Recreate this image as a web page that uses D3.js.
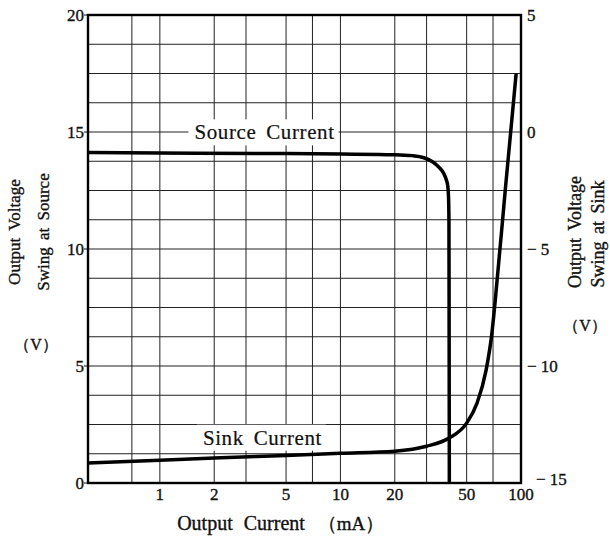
<!DOCTYPE html>
<html>
<head>
<meta charset="utf-8">
<script src="https://cdn.jsdelivr.net/npm/d3@7"></script>
<style>
  body { margin: 0; background: #fff; }
  text { font-family: "Liberation Serif", "DejaVu Serif", serif; fill: #111; stroke: #111; stroke-width: 0.35px; }
</style>
</head>
<body>
<div id="chart"></div>
<script>
// output current (mA) vs output voltage swing

const xTicks = [1, 2, 5, 10, 20, 50, 100]
const xGrid = [0.7, 1, 2, 3, 5, 7, 10, 20, 30, 50, 70]
const leftTicks = [0, 5, 10, 15, 20]
const rightTicks = [-15, -10, -5, 0, 5]

// source current curve, read on the left axis (V)
const sourceMa = [0.4, 1, 5, 10, 20, 25, 29, 32.5, 35.3, 37.2, 38.5, 39.3, 39.7, 39.9, 40, 40.1]
const sourceV = [14.12, 14.1, 14.08, 14.06, 14.03, 13.99, 13.9, 13.72, 13.48, 13.25, 12.98, 12.7, 12.2, 11.2, 6, 0]

// sink current curve, read on the right axis (V)
const sinkMa = [0.4, 1, 2, 5, 10, 20, 30, 40, 50, 57, 64, 69, 72, 82, 94]
const sinkV = [-14.15, -14.03, -13.93, -13.82, -13.73, -13.64, -13.43, -13.08, -12.44, -11.6, -10.2, -8.6, -7.2, -2.4, 2.5]

const width = 610, height = 539
const plotL = 88, plotR = 521, plotT = 15, plotB = 483

const svg = d3.select("#chart").append("svg")
  .attr("width", width)
  .attr("height", height)

const x = d3.scaleLog().domain([0.4, 100]).range([plotL, plotR])
const yL = d3.scaleLinear().domain([0, 20]).range([plotB, plotT])
const yR = d3.scaleLinear().domain([-15, 5]).range([plotB, plotT])

// grid
const yGrid = d3.range(1.25, 20, 1.25)
svg.append("g").selectAll("line")
  .data(yGrid)
  .join("line")
  .attr("x1", plotL).attr("x2", plotR)
  .attr("y1", d => yL(d)).attr("y2", d => yL(d))
  .attr("stroke", "#222").attr("stroke-width", 1)

svg.append("g").selectAll("line")
  .data(xGrid)
  .join("line")
  .attr("x1", d => x(d)).attr("x2", d => x(d))
  .attr("y1", plotT).attr("y2", plotB)
  .attr("stroke", "#222").attr("stroke-width", 1)

// small ticks left of the frame
svg.append("g").selectAll("line")
  .data(leftTicks)
  .join("line")
  .attr("x1", plotL - 4).attr("x2", plotL)
  .attr("y1", d => yL(d)).attr("y2", d => yL(d))
  .attr("stroke", "#111").attr("stroke-width", 1)

// curve labels with white boxes over the grid
function label(txt, cx, cy) {
  const g = svg.append("g")
  const t = g.append("text")
    .attr("x", cx).attr("y", cy)
    .attr("text-anchor", "middle")
    .attr("dy", "0.35em")
    .style("font-size", "21px")
    .style("letter-spacing", "0.6px")
    .style("word-spacing", "4px")
    .style("stroke-width", "0.2px")
    .text(txt)
  const b = t.node().getBBox()
  g.insert("rect", "text")
    .attr("x", b.x - 6).attr("y", b.y - 1)
    .attr("width", b.width + 10).attr("height", b.height + 2)
    .attr("fill", "#fff")
}
label("Source Current", x(3.8), yL(15))
label("Sink Current", x(3.7), yL(1.95))

// curves
const line = d3.line().curve(d3.curveMonotoneX)

svg.append("path")
  .attr("d", line(sourceMa.map((m, i) => [x(m), yL(sourceV[i])])))
  .attr("fill", "none")
  .attr("stroke", "#000")
  .attr("stroke-width", 3.5)

svg.append("path")
  .attr("d", line(sinkMa.map((m, i) => [x(m), yR(sinkV[i])])))
  .attr("fill", "none")
  .attr("stroke", "#000")
  .attr("stroke-width", 3.5)

// frame
svg.append("rect")
  .attr("x", plotL).attr("y", plotT)
  .attr("width", plotR - plotL).attr("height", plotB - plotT)
  .attr("fill", "none")
  .attr("stroke", "#000")
  .attr("stroke-width", 2.4)

// tick labels
svg.append("g").selectAll("text")
  .data(leftTicks)
  .join("text")
  .attr("x", plotL - 4)
  .attr("y", d => yL(d))
  .attr("dy", "0.35em")
  .attr("text-anchor", "end")
  .style("font-size", "17px")
  .text(d => d)

svg.append("g").selectAll("text")
  .data(rightTicks)
  .join("text")
  .attr("x", d => d === -15 ? plotR + 15 : plotR + 6)
  .attr("y", d => yR(d))
  .attr("dy", d => d === -15 ? "0.1em" : "0.35em")
  .attr("text-anchor", "start")
  .style("font-size", "17px")
  .text(d => d < 0 ? "\u2212 " + Math.abs(d) : d)

svg.append("g").selectAll("text")
  .data(xTicks)
  .join("text")
  .attr("x", d => x(d))
  .attr("y", plotB + 11)
  .attr("dy", "0.35em")
  .attr("text-anchor", "middle")
  .style("font-size", "17px")
  .text(d => d)

// axis titles
svg.append("text")
  .attr("x", 241).attr("y", 523).attr("dy", "0.35em")
  .attr("text-anchor", "middle")
  .style("font-size", "20px")
  .style("word-spacing", "6px")
  .text("Output Current")

svg.append("text")
  .attr("x", 351).attr("y", 523).attr("dy", "0.35em")
  .attr("text-anchor", "middle")
  .style("font-size", "19px")
  .text("（mA）")

const vTitle = (txt, cx, cy, size) => svg.append("text")
  .attr("transform", `translate(${cx},${cy}) rotate(-90)`)
  .attr("dy", "0.35em")
  .attr("text-anchor", "middle")
  .style("font-size", size + "px")
  .style("word-spacing", "3px")
  .text(txt)

vTitle("Output Voltage", 14, 232, 17)
vTitle("Swing at Source", 43, 232, 17)
vTitle("Output Voltage", 575, 232, 18)
vTitle("Swing at Sink", 598, 234, 18)

svg.append("text")
  .attr("x", 36).attr("y", 344).attr("dy", "0.35em")
  .attr("text-anchor", "middle")
  .style("font-size", "16px")
  .text("（V）")

svg.append("text")
  .attr("x", 585).attr("y", 325).attr("dy", "0.35em")
  .attr("text-anchor", "middle")
  .style("font-size", "16px")
  .text("（V）")
</script>
</body>
</html>
